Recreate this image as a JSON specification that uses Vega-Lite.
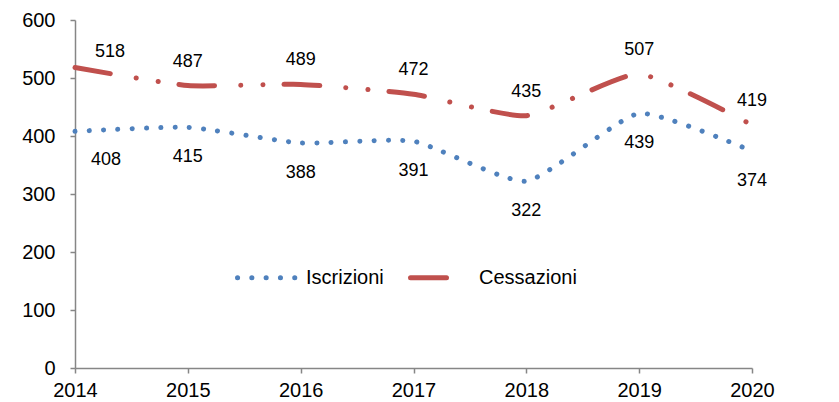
{
  "$schema": "https://vega.github.io/schema/vega-lite/v6.json",
  "width": 677,
  "height": 348,
  "autosize": {"type": "none"},
  "padding": {"left": 75, "top": 20, "right": 87, "bottom": 34},
  "background": "white",
  "config": {
    "view": {"stroke": null},
    "font": "Liberation Sans",
    "axis": {"grid": false, "domainColor": "#868686", "tickColor": "#868686", "domainWidth": 1.5, "tickWidth": 1.5, "tickSize": 5, "labelFontSize": 20, "labelColor": "#000000", "labelFont": "Liberation Sans", "title": null}
  },
  "data": {"values": [
    {"year": 2014, "series": "Iscrizioni", "value": 408},
    {"year": 2015, "series": "Iscrizioni", "value": 415},
    {"year": 2016, "series": "Iscrizioni", "value": 388},
    {"year": 2017, "series": "Iscrizioni", "value": 391},
    {"year": 2018, "series": "Iscrizioni", "value": 322},
    {"year": 2019, "series": "Iscrizioni", "value": 439},
    {"year": 2020, "series": "Iscrizioni", "value": 374},
    {"year": 2014, "series": "Cessazioni", "value": 518},
    {"year": 2015, "series": "Cessazioni", "value": 487},
    {"year": 2016, "series": "Cessazioni", "value": 489},
    {"year": 2017, "series": "Cessazioni", "value": 472},
    {"year": 2018, "series": "Cessazioni", "value": 435},
    {"year": 2019, "series": "Cessazioni", "value": 507},
    {"year": 2020, "series": "Cessazioni", "value": 419}
  ]},
  "encoding": {
    "x": {"field": "year", "type": "quantitative", "scale": {"domain": [2014, 2020], "nice": false, "zero": false},
      "axis": {"values": [2014, 2015, 2016, 2017, 2018, 2019, 2020], "format": "d", "labelPadding": 7, "labelFlush": false}},
    "y": {"field": "value", "type": "quantitative", "scale": {"domain": [0, 600], "nice": false},
      "axis": {"values": [0, 100, 200, 300, 400, 500, 600], "labelPadding": 15}}
  },
  "layer": [
    {
      "mark": {"type": "line", "interpolate": "cardinal", "tension": 0.5, "strokeWidth": 5, "strokeCap": "round", "strokeJoin": "round"},
      "encoding": {
        "color": {"field": "series", "type": "nominal", "title": null,
          "scale": {"domain": ["Iscrizioni", "Cessazioni"], "range": ["#4F81BD", "#C0504D"]},
          "legend": {"orient": "none", "legendX": 160, "legendY": 226, "direction": "horizontal", "title": null,
            "symbolType": "stroke", "symbolSize": 3364, "symbolStrokeWidth": 5, "labelFontSize": 20, "labelColor": "#000000", "labelFont": "Liberation Sans", "labelOffset": 8, "columnPadding": 16,
            "encode": {"symbols": {"update": {"strokeCap": {"value": "round"}, "strokeDash": {"signal": "datum.value == 'Cessazioni' ? [38, 100] : [0.1, 14.2]"}}}}}},
        "strokeDash": {"field": "series", "type": "nominal", "title": null,
          "scale": {"domain": ["Iscrizioni", "Cessazioni"], "range": [[0.1, 14.2], [36, 26, 0.1, 22, 0.1, 21]]},
          "legend": {"orient": "none", "legendX": 160, "legendY": 226, "direction": "horizontal", "title": null,
            "symbolType": "stroke", "symbolSize": 3364, "symbolStrokeWidth": 5, "labelFontSize": 20, "labelColor": "#000000", "labelFont": "Liberation Sans", "labelOffset": 8, "columnPadding": 16,
            "encode": {"symbols": {"update": {"strokeCap": {"value": "round"}, "strokeDash": {"signal": "datum.value == 'Cessazioni' ? [38, 100] : [0.1, 14.2]"}}}}}}
      }
    },
    {
      "transform": [{"filter": "datum.series == 'Cessazioni' && datum.year > 2014"}],
      "mark": {"type": "text", "dy": -24, "fontSize": 18, "color": "#000000", "font": "Liberation Sans"},
      "encoding": {"text": {"field": "value", "type": "quantitative"}}
    },
    {
      "transform": [{"filter": "datum.series == 'Iscrizioni' && datum.year > 2014"}],
      "mark": {"type": "text", "dy": 30, "fontSize": 18, "color": "#000000", "font": "Liberation Sans"},
      "encoding": {"text": {"field": "value", "type": "quantitative"}}
    },
    {
      "transform": [{"filter": "datum.series == 'Cessazioni' && datum.year == 2014"}],
      "mark": {"type": "text", "dx": 35, "dy": -16, "fontSize": 18, "color": "#000000", "font": "Liberation Sans"},
      "encoding": {"text": {"field": "value", "type": "quantitative"}}
    },
    {
      "transform": [{"filter": "datum.series == 'Iscrizioni' && datum.year == 2014"}],
      "mark": {"type": "text", "dx": 31, "dy": 29, "fontSize": 18, "color": "#000000", "font": "Liberation Sans"},
      "encoding": {"text": {"field": "value", "type": "quantitative"}}
    }
  ]
}
